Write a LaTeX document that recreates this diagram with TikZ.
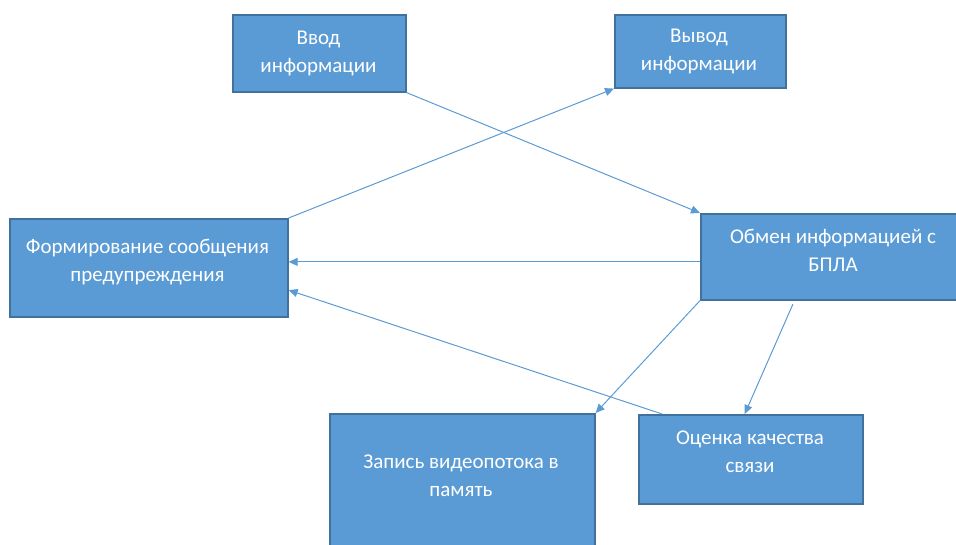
\documentclass[tikz,border=0pt]{standalone}
\usepackage{fontspec}
\setmainfont{Carlito}
\usetikzlibrary{arrows.meta,calc}
\definecolor{boxfill}{HTML}{5B9BD5}
\definecolor{boxline}{HTML}{41719C}
\definecolor{arr}{HTML}{5B9BD5}
\tikzset{
  blk/.style={draw=boxline, fill=boxfill, line width=1.6pt, rectangle, anchor=north west, inner sep=0pt},
  lbl/.style={text=white, align=center, font=\fontsize{21}{27.5}\selectfont, inner sep=0pt},
  conn/.style={draw=arr, line width=1pt, -{Triangle[length=9pt,width=8pt]}}
}
\begin{document}
\begin{tikzpicture}[x=1pt,y=-1pt]
\useasboundingbox (0,0) rectangle (956,544);
\node[blk, minimum width=173pt, minimum height=77pt] (vvod) at (232,14) {};
\node[blk, minimum width=171pt, minimum height=73pt] (vyvod) at (614,14) {};
\node[blk, minimum width=278pt, minimum height=98pt] (form) at (9,218) {};
\node[blk, minimum width=266pt, minimum height=86pt] (obmen) at (700,213) {};
\node[blk, minimum width=265pt, minimum height=138pt] (zapis) at (329,413) {};
\node[blk, minimum width=224pt, minimum height=89pt] (ocenka) at (638,414) {};

\node[lbl] (tvvod) at (318.5,53) {\strut Ввод\\\strut информации};
\node[lbl] (tvyvod) at (699,51) {\strut Вывод\\\strut информации};
\node[lbl] (tform) at (147.5,262) {\strut Формирование сообщения\\\strut предупреждения};
\node[lbl] (tobmen) at (833,252) {\strut Обмен информацией с\\\strut БПЛА};
\node[lbl] (tzapis) at (461,477) {\strut Запись видеопотока в\\\strut память};
\node[lbl] (tocenka) at (750,453) {\strut Оценка качества\\\strut связи};

\draw[conn] (vvod.south east) -- (obmen.north west);
\draw[conn] (form.north east) -- (vyvod.south west);
\coordinate (a3) at ($(obmen.north west)!0.558!(obmen.south west)$);
\draw[conn] (a3) -- (a3 -| form.east);
\draw[conn] ($(ocenka.north west)!0.107!(ocenka.north east)$) -- ($(form.north east)!0.724!(form.south east)$);
\draw[conn] (obmen.south west) -- (zapis.north east);
\draw[conn, shorten <=4pt] ($(obmen.south west)!0.353!(obmen.south east)$) -- ($(ocenka.north west)!0.473!(ocenka.north east)$);
\end{tikzpicture}
\end{document}
